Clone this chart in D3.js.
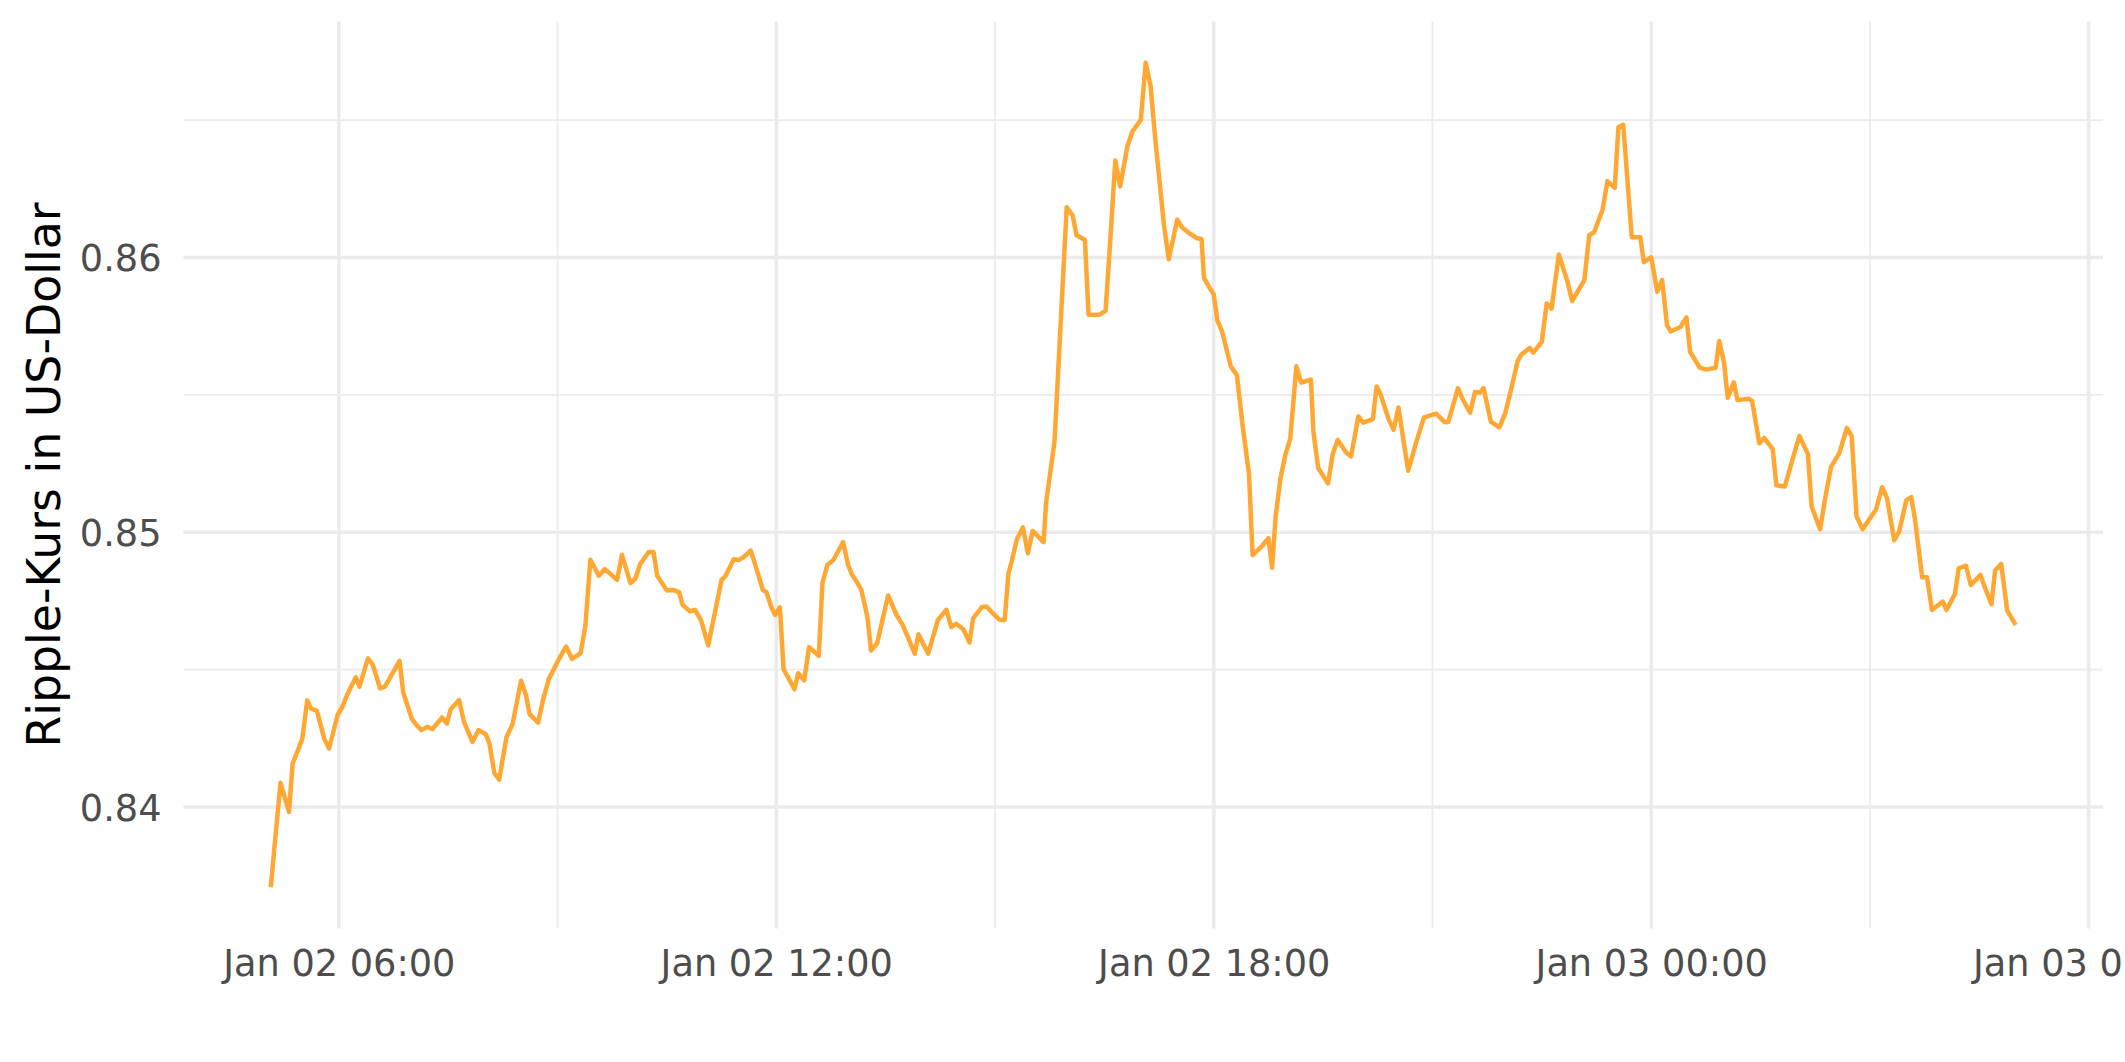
<!DOCTYPE html>
<html>
<head>
<meta charset="utf-8">
<script src="https://cdn.jsdelivr.net/npm/d3@7"></script>
<style>
  html, body { margin: 0; padding: 0; background: #ffffff; }
  svg { display: block; font-family: "DejaVu Sans", sans-serif; }
</style>
</head>
<body>
<svg id="chart" width="2125" height="1062"></svg>
<script>
// ---- data ----
const times = [
"01-02 05:04","01-02 05:12","01-02 05:19","01-02 05:22","01-02 05:30","01-02 05:34","01-02 05:37","01-02 05:42","01-02 05:48","01-02 05:52",
"01-02 05:59","01-02 06:03","01-02 06:07","01-02 06:14","01-02 06:17","01-02 06:24","01-02 06:28","01-02 06:34","01-02 06:38","01-02 06:50",
"01-02 06:53","01-02 07:00","01-02 07:04","01-02 07:08","01-02 07:13","01-02 07:17","01-02 07:25","01-02 07:29","01-02 07:32","01-02 07:39",
"01-02 07:43","01-02 07:50","01-02 07:55","01-02 08:01","01-02 08:04","01-02 08:08","01-02 08:12","01-02 08:18","01-02 08:23","01-02 08:30",
"01-02 08:34","01-02 08:37","01-02 08:44","01-02 08:48","01-02 08:53","01-02 08:56","01-02 09:00","01-02 09:07","01-02 09:12","01-02 09:19",
"01-02 09:23","01-02 09:27","01-02 09:34","01-02 09:39","01-02 09:49","01-02 09:53","01-02 10:00","01-02 10:04","01-02 10:08","01-02 10:15",
"01-02 10:19","01-02 10:22","01-02 10:30","01-02 10:35","01-02 10:40","01-02 10:43","01-02 10:49","01-02 10:53","01-02 10:58","01-02 11:04",
"01-02 11:15","01-02 11:18","01-02 11:25","01-02 11:29","01-02 11:33","01-02 11:39","01-02 11:44","01-02 11:49","01-02 11:52","01-02 11:56",
"01-02 11:59","01-02 12:03","01-02 12:06","01-02 12:15","01-02 12:18","01-02 12:23","01-02 12:27","01-02 12:35","01-02 12:38","01-02 12:42",
"01-02 12:47","01-02 12:55","01-02 12:59","01-02 13:02","01-02 13:06","01-02 13:10","01-02 13:15","01-02 13:18","01-02 13:23","01-02 13:32",
"01-02 13:39","01-02 13:44","01-02 13:54","01-02 13:57","01-02 14:05","01-02 14:13","01-02 14:20","01-02 14:24","01-02 14:28","01-02 14:34",
"01-02 14:39","01-02 14:42","01-02 14:49","01-02 14:53","01-02 15:00","01-02 15:04","01-02 15:08","01-02 15:11","01-02 15:14","01-02 15:18",
"01-02 15:23","01-02 15:27","01-02 15:31","01-02 15:40","01-02 15:42","01-02 15:49","01-02 15:59","01-02 16:04","01-02 16:07","01-02 16:14",
"01-02 16:17","01-02 16:26","01-02 16:31","01-02 16:35","01-02 16:39","01-02 16:43","01-02 16:49","01-02 16:53","01-02 17:00","01-02 17:04",
"01-02 17:08","01-02 17:12","01-02 17:19","01-02 17:23","01-02 17:30","01-02 17:34","01-02 17:41","01-02 17:46","01-02 17:50","01-02 17:52",
"01-02 17:56","01-02 18:00","01-02 18:03","01-02 18:07","01-02 18:14","01-02 18:19","01-02 18:24","01-02 18:29","01-02 18:32","01-02 18:40",
"01-02 18:45","01-02 18:48","01-02 18:51","01-02 18:55","01-02 18:59","01-02 19:03","01-02 19:08","01-02 19:12","01-02 19:20","01-02 19:22",
"01-02 19:26","01-02 19:34","01-02 19:38","01-02 19:42","01-02 19:49","01-02 19:53","01-02 19:59","01-02 20:03","01-02 20:11","01-02 20:14",
"01-02 20:17","01-02 20:24","01-02 20:28","01-02 20:32","01-02 20:40","01-02 20:46","01-02 20:53","01-02 21:03","01-02 21:10","01-02 21:13",
"01-02 21:21","01-02 21:25","01-02 21:31","01-02 21:35","01-02 21:39","01-02 21:42","01-02 21:48","01-02 21:55","01-02 22:00","01-02 22:05",
"01-02 22:10","01-02 22:13","01-02 22:20","01-02 22:23","01-02 22:30","01-02 22:34","01-02 22:38","01-02 22:44","01-02 22:51","01-02 22:55",
"01-02 23:05","01-02 23:09","01-02 23:13","01-02 23:20","01-02 23:24","01-02 23:30","01-02 23:33","01-02 23:37","01-02 23:44","01-02 23:51",
"01-02 23:54","01-03 00:00","01-03 00:05","01-03 00:09","01-03 00:13","01-03 00:16","01-03 00:24","01-03 00:29","01-03 00:32","01-03 00:40",
"01-03 00:45","01-03 00:53","01-03 00:56","01-03 01:00","01-03 01:03","01-03 01:08","01-03 01:11","01-03 01:20","01-03 01:23","01-03 01:29",
"01-03 01:33","01-03 01:40","01-03 01:43","01-03 01:50","01-03 01:56","01-03 02:02","01-03 02:09","01-03 02:12","01-03 02:19","01-03 02:23",
"01-03 02:28","01-03 02:35","01-03 02:41","01-03 02:45","01-03 02:49","01-03 02:54","01-03 02:58","01-03 03:05","01-03 03:10","01-03 03:14",
"01-03 03:20","01-03 03:24","01-03 03:30","01-03 03:34","01-03 03:37","01-03 03:43","01-03 03:47","01-03 03:51","01-03 04:00","01-03 04:03",
"01-03 04:10","01-03 04:13","01-03 04:19","01-03 04:23","01-03 04:31","01-03 04:34","01-03 04:40","01-03 04:43","01-03 04:48","01-03 04:53",
"01-03 05:00"
];
const prices = [
0.83708,0.84088,0.83982,0.84158,0.84249,0.84389,0.84359,0.84350,0.84249,0.84213,
0.84335,0.84365,0.84410,0.84472,0.84438,0.84541,0.84517,0.84432,0.84438,0.84532,
0.84417,0.84322,0.84298,0.84280,0.84292,0.84283,0.84326,0.84304,0.84356,0.84389,
0.84310,0.84237,0.84280,0.84265,0.84231,0.84124,0.84100,0.84255,0.84302,0.84460,
0.84408,0.84338,0.84307,0.84389,0.84468,0.84493,0.84529,0.84584,0.84539,0.84560,
0.84663,0.84900,0.84842,0.84866,0.84827,0.84918,0.84815,0.84831,0.84884,0.84928,
0.84928,0.84842,0.84788,0.84790,0.84782,0.84736,0.84712,0.84718,0.84681,0.84588,
0.84827,0.84839,0.84902,0.84899,0.84909,0.84933,0.84863,0.84790,0.84781,0.84727,
0.84699,0.84727,0.84502,0.84429,0.84487,0.84461,0.84582,0.84550,0.84815,0.84881,
0.84899,0.84964,0.84884,0.84848,0.84821,0.84790,0.84693,0.84570,0.84596,0.84770,
0.84699,0.84663,0.84558,0.84629,0.84558,0.84681,0.84718,0.84655,0.84667,0.84647,
0.84599,0.84687,0.84727,0.84730,0.84697,0.84681,0.84681,0.84848,0.84899,0.84975,
0.85018,0.84924,0.85005,0.84964,0.85105,0.85332,0.86183,0.86152,0.86082,0.86064,
0.85792,0.85792,0.85806,0.86071,0.86353,0.86259,0.86406,0.86458,0.86501,0.86709,
0.86625,0.86427,0.86120,0.85994,0.86138,0.86109,0.86085,0.86071,0.86067,0.85925,
0.85894,0.85866,0.85771,0.85729,0.85604,0.85573,0.85380,0.85213,0.84917,0.84951,
0.84979,0.84871,0.85059,0.85199,0.85283,0.85341,0.85604,0.85545,0.85556,0.85366,
0.85234,0.85178,0.85286,0.85336,0.85290,0.85276,0.85422,0.85399,0.85412,0.85531,
0.85506,0.85411,0.85373,0.85454,0.85224,0.85318,0.85418,0.85432,0.85401,0.85401,
0.85525,0.85483,0.85435,0.85511,0.85508,0.85525,0.85403,0.85382,0.85435,0.85525,
0.85622,0.85646,0.85671,0.85654,0.85694,0.85833,0.85814,0.86011,0.85914,0.85842,
0.85918,0.86081,0.86092,0.86174,0.86278,0.86254,0.86474,0.86483,0.86074,0.86074,
0.85983,0.86001,0.85875,0.85918,0.85754,0.85731,0.85747,0.85782,0.85657,0.85599,
0.85592,0.85599,0.85696,0.85615,0.85490,0.85546,0.85481,0.85486,0.85479,0.85324,
0.85344,0.85303,0.85171,0.85167,0.85261,0.85351,0.85284,0.85094,0.85011,0.85120,
0.85238,0.85290,0.85380,0.85350,0.85058,0.85011,0.85037,0.85083,0.85164,0.85125,
0.84971,0.85002,0.85117,0.85128,0.85049,0.84836,0.84836,0.84717,0.84748,0.84717,
0.84776,0.84869,0.84879,0.84808,0.84845,0.84806,0.84738,0.84861,0.84885,0.84715,
0.84663
];
const yTicks = [0.84, 0.85, 0.86];
const yMinor = [0.845, 0.855, 0.865];
const yTitle = "Ripple-Kurs in US-Dollar";
const xTickFormat = "%b %d %H:%M";

// ---- layout ----
const panel = { left: 183.5, right: 2103, top: 21.5, bottom: 928.5 };
const gridColor = "#EBEBEB";
const lineColor = "#FFA733";
const textColor = "#4D4D4D";

const parse = d3.utcParse("%Y-%m-%d %H:%M");
const data = times.map((t, i) => ({ t: parse("2018-" + t), v: prices[i] }));

const tExt = d3.extent(data, d => d.t);
const tPad = (tExt[1] - tExt[0]) * 0.05;
const vExt = d3.extent(data, d => d.v);
const vPad = (vExt[1] - vExt[0]) * 0.05;

const x = d3.scaleUtc()
  .domain([new Date(+tExt[0] - tPad), new Date(+tExt[1] + tPad)])
  .range([panel.left, panel.right]);
const y = d3.scaleLinear()
  .domain([vExt[0] - vPad, vExt[1] + vPad])
  .range([panel.bottom, panel.top]);

const svg = d3.select("#chart");

// minor gridlines
const xMajor = d3.utcHour.every(6).range(x.domain()[0], x.domain()[1]);
const xMinorT = d3.utcHour.every(3).range(x.domain()[0], x.domain()[1])
  .filter(d => d.getUTCHours() % 6 !== 0);

const grid = svg.append("g");
grid.selectAll("line.ymin").data(yMinor).join("line")
  .attr("x1", panel.left).attr("x2", panel.right)
  .attr("y1", d => y(d)).attr("y2", d => y(d))
  .attr("stroke", gridColor).attr("stroke-width", 1.8);
grid.selectAll("line.xmin").data(xMinorT).join("line")
  .attr("x1", d => x(d)).attr("x2", d => x(d))
  .attr("y1", panel.top).attr("y2", panel.bottom)
  .attr("stroke", gridColor).attr("stroke-width", 1.8);
// major gridlines
grid.selectAll("line.ymaj").data(yTicks).join("line")
  .attr("x1", panel.left).attr("x2", panel.right)
  .attr("y1", d => y(d)).attr("y2", d => y(d))
  .attr("stroke", gridColor).attr("stroke-width", 3.6);
grid.selectAll("line.xmaj").data(xMajor).join("line")
  .attr("x1", d => x(d)).attr("x2", d => x(d))
  .attr("y1", panel.top).attr("y2", panel.bottom)
  .attr("stroke", gridColor).attr("stroke-width", 3.6);

// axes (labels only, theme_minimal style)
const xAxis = d3.axisBottom(x).tickValues(xMajor)
  .tickFormat(d3.utcFormat(xTickFormat)).tickSize(0).tickPadding(0);
const gx = svg.append("g").attr("transform", `translate(0,${panel.bottom})`).call(xAxis);
gx.select(".domain").remove();
gx.selectAll("text")
  .attr("y", 47.5).attr("dy", null)
  .attr("fill", textColor)
  .style("font-family", "'DejaVu Sans', sans-serif")
  .style("font-size", "36.7px");

const yAxis = d3.axisLeft(y).tickValues(yTicks)
  .tickFormat(d3.format(".2f")).tickSize(0).tickPadding(0);
const gy = svg.append("g").attr("transform", `translate(${panel.left},0)`).call(yAxis);
gy.select(".domain").remove();
gy.selectAll("text")
  .attr("x", -22).attr("dy", "0.3645em")
  .attr("fill", textColor)
  .style("font-family", "'DejaVu Sans', sans-serif")
  .style("font-size", "36.7px");

// y title
svg.append("text")
  .attr("transform", `translate(60,${(panel.top + panel.bottom) / 2}) rotate(-90)`)
  .attr("text-anchor", "middle")
  .attr("fill", "#000000")
  .style("font-family", "'DejaVu Sans', sans-serif")
  .style("font-size", "45.8px")
  .text(yTitle);

// line
const line = d3.line().x(d => x(d.t)).y(d => y(d.v));
svg.append("path")
  .datum(data)
  .attr("d", line)
  .attr("fill", "none")
  .attr("stroke", lineColor)
  .attr("stroke-width", 4.5)
  .attr("stroke-linejoin", "round")
  .attr("stroke-linecap", "butt");
</script>
</body>
</html>
